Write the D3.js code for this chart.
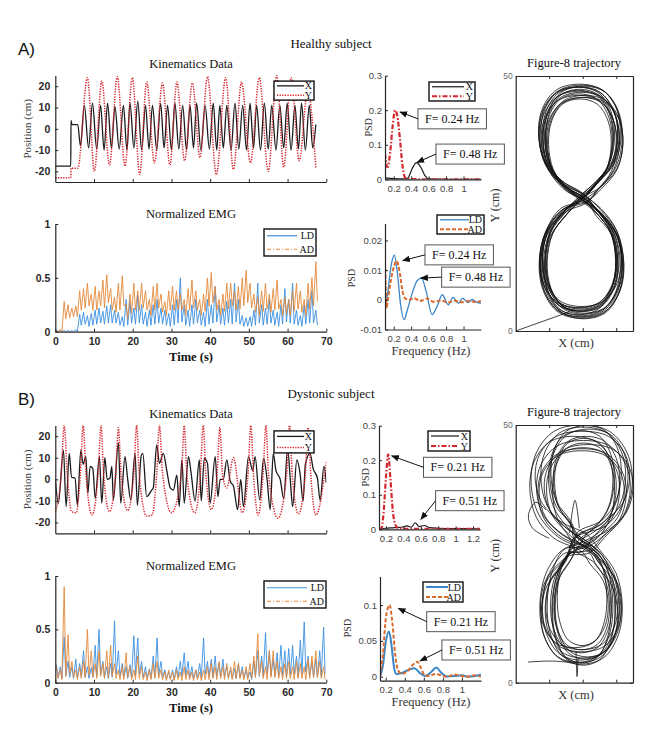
<!DOCTYPE html>
<html>
<head>
<meta charset="utf-8">
<script src="https://cdn.jsdelivr.net/npm/d3@7"></script>
<style>
  body { margin: 0; background: #fff; }
</style>
</head>
<body>
<script>
// ---------- values ----------
const timeTicks = [0, 10, 20, 30, 40, 50, 60, 70]
const kinTimeTicks = [10, 20, 30, 40, 50, 60, 70]
const posTicks = [-20, -10, 0, 10, 20]
const emgTicks = [0, 0.5, 1]
const freqTicks = [0.2, 0.4, 0.6, 0.8, 1]
const freqTicksLong = [0.2, 0.4, 0.6, 0.8, 1, 1.2]

// kinematics, turning points [time s, position cm]
const healthyX = [[0,-17.5],[4.0,-17.5],[4.05,4],[4.3,2],[5.8,2],[6.5,-8],[7.5,11],[8.6,-9],[9.6,12],[10.7,-9.5],[11.7,11],[12.6,-10],[13.5,12],[14.5,-9],[15.4,10.5],[16.5,-9.5],[17.6,11],[18.5,-10],[19.3,12],[20.3,-9],[21.3,13],[22.3,-10],[23.3,11],[24.2,-9.5],[25.1,11],[26.2,-10],[27.2,12],[28.1,-9],[29.0,11],[30.0,-10],[30.9,12],[31.9,-9.5],[32.9,11],[33.9,-10],[34.8,11],[35.7,-9],[36.5,12],[37.6,-10],[38.7,11],[39.8,-9.5],[40.8,12],[41.7,-10],[42.5,11],[43.4,-9],[44.3,11],[45.4,-10],[46.4,12],[47.4,-9.5],[48.4,11],[49.4,-10],[50.3,12],[51.2,-9],[52.0,11],[53.0,-10],[54.0,12],[55.0,-9.5],[55.9,11],[57.0,-10],[58.0,11],[59.0,-9],[59.9,12],[60.9,-10],[61.9,11],[62.8,-9.5],[63.6,12],[64.6,-10],[65.6,11],[66.5,-9],[67.3,2]]
const healthyY = [[0,-23],[4.0,-23],[4.05,-18.5],[5.8,-18.5],[8.3,24],[10.1,-20],[12.0,22.5],[14.0,-17],[16.0,24.5],[18.0,-17.5],[19.9,24],[21.8,-21.5],[23.6,22],[25.6,-16],[27.7,21.5],[29.6,-17],[31.4,22],[33.4,-15],[35.4,21.5],[37.4,-13.5],[39.3,24.5],[41.6,-21.5],[44.0,24],[46.0,-19],[48.1,22],[50.4,-16],[52.7,24],[55.0,-20],[57.2,25],[59.0,-18],[60.9,24],[63.0,-15],[65.2,18],[67.3,-18.5]]
const dystonicX = [[0,0],[0.8,-11],[2.1,13.5],[2.8,-12.6],[3.6,12],[4.2,1],[5.1,0.5],[5.7,-12],[6.6,13.5],[7.2,7],[7.9,10.5],[8.4,-6.5],[9.0,6],[9.7,5],[10.3,-8.8],[11.4,10.5],[12.0,-11],[12.8,10],[13.4,0],[14.1,0.5],[14.6,6],[15.0,-9.5],[16.3,17],[16.9,-11],[18.0,10.5],[18.7,0],[19.5,-9.5],[20.6,12],[21.2,-12],[22.2,11],[22.6,12],[23.6,-8],[24.9,-5],[25.3,-4],[26.2,16],[26.9,7.4],[27.9,12],[28.8,4],[29.7,-4],[30.5,-5],[31.4,2],[32.0,-12.6],[32.7,9],[33.3,-11],[34.4,10.5],[35.0,4],[36.1,-10],[37.2,9],[37.7,-10],[38.5,9.7],[39.3,7.4],[40.0,-11],[41.3,10.5],[42.0,-8],[42.6,0],[43.4,0],[44.3,9],[45.2,-1],[46.0,-3],[47.1,-14],[47.9,0],[48.6,-12.6],[49.9,10.5],[51.0,4],[51.6,10.5],[52.8,-9.5],[53.8,9.7],[54.7,0],[55.5,-14],[56.3,12],[57.0,4],[58.1,0],[59.0,-9],[60.0,14],[60.7,0],[61.3,-12.6],[62.4,9],[63.2,3],[64.0,-10],[64.6,7],[65.8,12],[66.6,5],[67.7,0.6],[68.4,-9.7],[69.4,6],[70,-1.7]]
const dystonicY = [[0,-15],[1.5,2],[2.3,25],[3.1,2],[4.2,-15],[5.4,-15.5],[6.5,3],[7.2,25],[7.9,3],[9.5,-16.5],[11.1,3],[11.8,25],[12.5,2],[14.0,-15],[15.6,3],[16.3,24],[17.0,2],[18.7,-14.5],[20.3,3],[21.0,25],[21.7,2],[23.6,-17],[25.0,-16.5],[26.2,3],[26.9,25],[27.7,3],[30.0,-15.5],[32.6,3],[33.3,25],[34.0,2],[36.0,-15.5],[37.5,3],[38.2,25],[38.9,2],[40.3,-14],[41.8,3],[42.5,24],[43.2,2],[44.3,-4],[46.0,10],[48.3,-15.5],[49.8,3],[50.5,25],[51.2,2],[52.4,-16.5],[53.7,3],[54.4,25],[55.1,2],[57.5,-18],[59.8,3],[60.5,25],[61.2,2],[62.8,-16],[64.6,3],[65.3,24],[66.0,2],[67.3,-16.5],[70,8]]

// normalized EMG, upper and lower edge of the trace for each second
const ldHealthyHi = [0.01,0.01,0.01,0.01,0.01,0.02,0.16,0.18,0.15,0.17,0.2,0.22,0.19,0.24,0.25,0.2,0.18,0.14,0.3,0.28,0.22,0.34,0.25,0.18,0.2,0.25,0.3,0.22,0.2,0.17,0.25,0.3,0.5,0.25,0.2,0.25,0.3,0.2,0.18,0.3,0.25,0.42,0.25,0.22,0.28,0.3,0.45,0.3,0.15,0.13,0.14,0.2,0.45,0.25,0.22,0.3,0.2,0.18,0.25,0.4,0.3,0.45,0.2,0.15,0.25,0.3,0.38,0.2]
const ldHealthyLo = [0,0,0,0,0,0,0.06,0.07,0.05,0.06,0.07,0.08,0.07,0.08,0.08,0.08,0.06,0.05,0.06,0.08,0.07,0.08,0.07,0.05,0.06,0.07,0.08,0.07,0.06,0.05,0.06,0.08,0.09,0.06,0.05,0.07,0.08,0.06,0.05,0.07,0.08,0.09,0.07,0.06,0.08,0.07,0.09,0.07,0.05,0.05,0.05,0.06,0.08,0.06,0.07,0.08,0.06,0.05,0.07,0.09,0.08,0.07,0.06,0.05,0.07,0.08,0.08,0.06]
const adHealthyHi = [0.01,0.02,0.28,0.25,0.22,0.24,0.38,0.4,0.45,0.35,0.42,0.38,0.48,0.53,0.4,0.32,0.45,0.52,0.25,0.35,0.45,0.38,0.45,0.38,0.3,0.42,0.45,0.35,0.28,0.38,0.42,0.38,0.35,0.3,0.4,0.48,0.38,0.3,0.35,0.5,0.55,0.42,0.3,0.35,0.45,0.45,0.38,0.42,0.5,0.57,0.45,0.35,0.32,0.38,0.45,0.35,0.4,0.48,0.3,0.32,0.3,0.38,0.45,0.38,0.3,0.45,0.5,0.65]
const adHealthyLo = [0,0,0.12,0.13,0.14,0.14,0.2,0.22,0.24,0.2,0.2,0.24,0.22,0.27,0.2,0.18,0.2,0.24,0.12,0.17,0.2,0.2,0.22,0.2,0.15,0.2,0.22,0.18,0.15,0.2,0.2,0.21,0.2,0.15,0.2,0.22,0.2,0.15,0.19,0.24,0.27,0.2,0.15,0.19,0.21,0.24,0.2,0.21,0.24,0.27,0.22,0.18,0.15,0.19,0.21,0.18,0.2,0.21,0.15,0.17,0.15,0.19,0.21,0.18,0.15,0.21,0.24,0.28]
const ldDystonicHi = [0.17,0.15,0.43,0.2,0.15,0.22,0.18,0.3,0.15,0.14,0.35,0.5,0.2,0.15,0.18,0.58,0.3,0.18,0.15,0.17,0.44,0.42,0.2,0.15,0.13,0.25,0.42,0.2,0.12,0.1,0.12,0.15,0.2,0.28,0.2,0.15,0.12,0.18,0.42,0.2,0.22,0.25,0.18,0.22,0.15,0.12,0.13,0.18,0.15,0.12,0.1,0.2,0.3,0.25,0.47,0.3,0.22,0.28,0.35,0.3,0.32,0.35,0.25,0.4,0.57,0.25,0.2,0.22,0.3,0.52]
const ldDystonicLo = [0.05,0.04,0.06,0.05,0.04,0.05,0.06,0.05,0.04,0.05,0.06,0.08,0.05,0.04,0.05,0.08,0.06,0.05,0.04,0.05,0.07,0.08,0.05,0.04,0.04,0.05,0.07,0.05,0.04,0.04,0.03,0.05,0.06,0.07,0.05,0.04,0.04,0.05,0.08,0.06,0.05,0.06,0.05,0.06,0.05,0.04,0.04,0.05,0.04,0.04,0.03,0.05,0.06,0.06,0.08,0.07,0.06,0.06,0.07,0.06,0.07,0.08,0.06,0.08,0.1,0.06,0.05,0.05,0.06,0.08]
const adDystonicHi = [0.15,0.12,0.9,0.45,0.2,0.12,0.15,0.2,0.5,0.3,0.18,0.3,0.18,0.3,0.35,0.18,0.12,0.15,0.28,0.15,0.12,0.25,0.15,0.1,0.12,0.18,0.2,0.12,0.1,0.12,0.1,0.12,0.1,0.15,0.12,0.1,0.12,0.1,0.12,0.15,0.18,0.15,0.2,0.15,0.18,0.15,0.2,0.18,0.12,0.15,0.18,0.25,0.46,0.2,0.15,0.3,0.3,0.2,0.15,0.18,0.2,0.15,0.2,0.18,0.15,0.22,0.25,0.3,0.2,0.15]
const adDystonicLo = [0.04,0.03,0.06,0.08,0.05,0.03,0.04,0.05,0.07,0.05,0.04,0.06,0.04,0.05,0.06,0.04,0.03,0.03,0.05,0.03,0.03,0.04,0.03,0.02,0.03,0.04,0.04,0.03,0.02,0.03,0.02,0.03,0.02,0.03,0.03,0.02,0.03,0.02,0.03,0.03,0.04,0.03,0.04,0.03,0.04,0.03,0.04,0.04,0.03,0.03,0.04,0.05,0.07,0.04,0.03,0.05,0.05,0.04,0.03,0.04,0.04,0.03,0.04,0.04,0.03,0.04,0.05,0.05,0.04,0.03]

// power spectra [Hz, PSD]
const psdHealthyX = [[0.1,0.004],[0.2,0.002],[0.3,0.001],[0.36,0.003],[0.41,0.03],[0.46,0.048],[0.51,0.035],[0.56,0.01],[0.6,0.001],[0.8,0],[1.2,0]]
const psdHealthyY = [[0.1,0.075],[0.115,0.045],[0.13,0.035],[0.16,0.08],[0.19,0.16],[0.215,0.2],[0.24,0.185],[0.27,0.12],[0.3,0.04],[0.33,0.005],[0.37,0.001],[0.6,0],[1.2,0]]
const psdHealthyLD = [[0.1,-0.0034],[0.13,0.002],[0.17,0.0115],[0.207,0.015],[0.24,0.0095],[0.28,-0.002],[0.318,-0.0067],[0.36,-0.003],[0.42,0.003],[0.47,0.0065],[0.52,0.0073],[0.57,0.003],[0.64,-0.005],[0.7,-0.002],[0.756,0.0017],[0.825,-0.0017],[0.88,0.0008],[0.94,-0.0012],[0.99,0.0005],[1.05,-0.0009],[1.1,0.0001],[1.15,-0.0008],[1.2,-0.0012]]
const psdHealthyAD = [[0.1,0.0125],[0.108,0.005],[0.116,-0.003],[0.13,-0.0005],[0.17,0.007],[0.205,0.0115],[0.234,0.0131],[0.27,0.009],[0.3,0.003],[0.33,0.0005],[0.38,0],[0.43,0.0006],[0.5,-0.0004],[0.58,0.0004],[0.66,-0.0007],[0.74,-0.0002],[0.82,-0.0009],[0.9,-0.0003],[0.98,-0.0008],[1.06,-0.0004],[1.13,-0.0007],[1.2,-0.0005]]
const psdDystonicX = [[0.12,0.002],[0.2,0.003],[0.3,0.005],[0.38,0.006],[0.44,0.01],[0.49,0.006],[0.535,0.019],[0.58,0.008],[0.64,0.011],[0.7,0.005],[0.8,0.003],[0.95,0.002],[1.1,0.002],[1.28,0.001]]
const psdDystonicY = [[0.12,0.002],[0.15,0.004],[0.17,0.04],[0.2,0.15],[0.225,0.217],[0.25,0.15],[0.28,0.05],[0.31,0.012],[0.34,0.003],[0.5,0.001],[1.28,0.001]]
const psdDystonicLD = [[0.14,0.001],[0.17,0.015],[0.2,0.048],[0.235,0.063],[0.26,0.045],[0.285,0.015],[0.31,0.004],[0.36,0.005],[0.43,0.009],[0.5,0.012],[0.56,0.005],[0.62,0.001],[0.68,0.007],[0.73,0.013],[0.78,0.006],[0.84,0.0005],[0.92,0.001],[1.0,0.002],[1.06,0.0003],[1.12,0.0008],[1.2,0.003]]
const psdDystonicAD = [[0.14,0.001],[0.17,0.03],[0.2,0.08],[0.24,0.1],[0.27,0.075],[0.3,0.03],[0.33,0.009],[0.37,0.004],[0.43,0.008],[0.48,0.016],[0.53,0.021],[0.57,0.012],[0.61,0.002],[0.66,0.001],[0.72,0.004],[0.78,0.002],[0.84,0],[0.92,0.003],[0.99,0.001],[1.06,0],[1.13,0.002],[1.2,0]]

// peak call-outs: box corner and arrow tip in [Hz, PSD]
const notesHealthyKin = [{label: 'F= 0.24 Hz', box: [0.478, 0.204], tip: [0.272, 0.195]}, {label: 'F= 0.48 Hz', box: [0.684, 0.102], tip: [0.467, 0.049]}]
const notesHealthyEmg = [{label: 'F= 0.24 Hz', box: [0.558, 0.0185], tip: [0.303, 0.0132]}, {label: 'F= 0.48 Hz', box: [0.749, 0.011], tip: [0.509, 0.0073]}]
const notesDystonicKin = [{label: 'F= 0.21 Hz', box: [0.631, 0.2085], tip: [0.266, 0.2126]}, {label: 'F= 0.51 Hz', box: [0.77, 0.1118], tip: [0.601, 0.029]}]
const notesDystonicEmg = [{label: 'F= 0.21 Hz', box: [0.63, 0.0908], tip: [0.332, 0.0956]}, {label: 'F= 0.51 Hz', box: [0.79, 0.0513], tip: [0.56, 0.022]}]

// figure-8 cycles (cm): crossing point, lobe side extents, top and bottom
const h8CrossX = [20.5,19.4,20.6,21.0,19.2,20.0,21.3,20.3,19.5,20.8,20.1,19.7,20.4,21.4,19.9,19.3]
const h8CrossY = [26.2,25.6,26.7,25.3,26.0,27.0,25.5,26.2,25.8,26.5,25.6,26.4,26.0,25.2,26.8,26.0]
const h8UpR = [30.5,28.8,31.5,30.2,29.0,31.2,32.0,29.5,28.5,30.8,31.8,30.0,29.2,31.0,30.4,32.0]
const h8UpL = [7.0,8.8,7.5,9.5,8.2,6.8,9.2,8.0,9.8,7.2,8.6,7.6,9.0,8.1,6.9,8.8]
const h8Top = [47.8,46.5,48.2,45.8,47.2,48.4,46.2,47.8,45.5,47.0,48.0,46.2,47.4,46.8,47.9,45.8]
const h8LowR = [31.8,30.0,32.2,30.5,31.5,29.8,32.0,30.8,31.6,30.0,32.3,30.4,31.2,30.2,31.8,29.9]
const h8LowL = [7.2,8.8,7.0,9.2,8.0,7.6,8.6,7.3,9.4,8.0,7.4,9.0,8.3,7.1,8.7,7.9]
const h8Bot = [2.8,4.3,2.5,3.8,4.8,3.2,2.4,4.1,3.5,4.5,2.7,3.9,3.0,4.6,3.3,3.9]
const h8Start = [[0, 0], [16.2, 3.8]]

const d8CrossX = [19.5,17.8,21.2,19.0,22.0,18.4,20.4,17.4,19.8,21.4,18.2,20.8,19.0,22.4,17.8]
const d8CrossY = [27.8,25.6,28.8,27.0,25.2,28.4,26.6,28.0,25.4,27.4,29.0,26.2,27.8,25.8,28.4]
const d8UpR = [32.8,29.5,34.0,31.0,34.8,29.0,32.4,33.5,30.0,35.0,31.5,34.2,29.4,33.0,31.0]
const d8UpL = [7.5,11.0,5.8,9.2,4.6,11.6,7.0,10.2,4.2,8.5,10.5,6.2,9.8,6.6,11.2]
const d8Top = [49.6,46.5,48.8,45.6,50.0,47.4,45.0,49.2,47.8,46.2,49.9,47.0,48.9,45.4,47.8]
const d8LowR = [30.8,28.0,31.8,28.6,30.4,27.2,31.4,29.6,27.6,31.0,29.0,31.6,28.4,30.4,29.8]
const d8LowL = [8.0,11.4,7.2,10.4,7.6,12.4,8.8,10.8,7.4,11.8,9.4,7.8,11.0,9.0,11.6]
const d8Bot = [4.4,6.4,3.6,5.8,3.9,7.2,4.8,3.4,6.8,5.0,4.0,6.0,3.8,6.4,4.6]
const d8Strays = [
  [[3.7,4.0],[10,4.2],[17.5,3.9]],
  [[18,6],[18.3,1.2],[18.6,5]],
  [[10,28],[5,30],[3.8,32.5],[6,35],[9,33.5]],
  [[16,29],[17.7,35.4],[19,30]]
]

// ---------- drawing ----------
const serif = '"Liberation Serif", "DejaVu Serif", serif'
const sans = '"Liberation Sans", Arial, sans-serif'
const black = '#1b1b1b', red = '#d5262c', blue = '#3b8ee0', orange = '#e3893b'
const psdBlue = '#3a86c8', psdOrange = '#dc6a2c'

const svg = d3.select('body').append('svg')
  .attr('width', 660).attr('height', 735).style('display', 'block')
const defs = svg.append('defs')
defs.append('marker').attr('id', 'arrow')
  .attr('viewBox', '0 0 10 10').attr('refX', 9).attr('refY', 5)
  .attr('markerWidth', 8).attr('markerHeight', 8)
  .attr('markerUnits', 'userSpaceOnUse').attr('orient', 'auto')
  .append('path').attr('d', 'M0,1 L10,5 L0,9 Z').attr('fill', '#111')

let clipCount = 0
function clip(x, y, pad) {
  const id = 'clip' + (clipCount++)
  const [x0, x1] = x.range(), [y0, y1] = y.range()
  defs.append('clipPath').attr('id', id).append('rect')
    .attr('x', x0).attr('y', y1 - pad).attr('width', x1 - x0).attr('height', y0 - y1 + pad)
  return `url(#${id})`
}

function label(x, y, s, o = {}) {
  const t = svg.append('text').attr('x', x).attr('y', y).text(s)
    .attr('font-family', o.font || serif).attr('font-size', o.size || 12)
    .attr('font-weight', o.weight || 'normal').attr('fill', o.color || '#111')
    .attr('text-anchor', o.anchor || 'middle')
  if (o.rotate) t.attr('transform', `rotate(-90,${x},${y})`)
  return t
}

function axes(x, y, o) {
  const gx = svg.append('g').attr('transform', `translate(0,${y.range()[0]})`)
    .call(d3.axisBottom(x).tickValues(o.xTicks).tickFormat(o.xLabels ? d => d : () => '')
      .tickSizeInner(-3).tickSizeOuter(0).tickPadding(o.xPad || 4))
  const gy = svg.append('g').attr('transform', `translate(${x.range()[0]},0)`)
    .call(d3.axisLeft(y).tickValues(o.yTicks).tickFormat(d => d)
      .tickSizeInner(-3).tickSizeOuter(0).tickPadding(o.yPad || 4))
  const gs = [gx, gy]
  if (o.box) {
    gs.push(svg.append('g').attr('transform', `translate(0,${y.range()[1]})`)
      .call(d3.axisTop(x).tickValues(o.xTicks).tickFormat(() => '').tickSizeInner(-3).tickSizeOuter(0)))
    gs.push(svg.append('g').attr('transform', `translate(${x.range()[1]},0)`)
      .call(d3.axisRight(y).tickValues(o.yTicks).tickFormat(() => '').tickSizeInner(-3).tickSizeOuter(0)))
  }
  for (const g of gs) {
    g.select('.domain').attr('stroke', '#262626').attr('stroke-width', 1.2)
    g.selectAll('.tick line').attr('stroke', '#262626')
    g.selectAll('text').attr('font-family', o.font).attr('font-size', o.size)
      .attr('font-weight', o.weight).attr('fill', o.color)
  }
}

function legend(x0, y0, w, h, items) {
  const g = svg.append('g')
  g.append('rect').attr('x', x0).attr('y', y0).attr('width', w).attr('height', h)
    .attr('fill', '#fff').attr('stroke', '#111').attr('stroke-width', 1.4)
  items.forEach((it, i) => {
    const yy = y0 + h * (i + 0.5) / items.length
    g.append('line').attr('x1', x0 + 3).attr('x2', x0 + w - it.gap).attr('y1', yy).attr('y2', yy)
      .attr('stroke', it.color).attr('stroke-width', it.width).attr('stroke-dasharray', it.dash || null)
    g.append('text').attr('x', x0 + w - 2).attr('y', yy).attr('dy', '0.35em')
      .attr('text-anchor', 'end').attr('font-family', serif).attr('font-size', 10)
      .attr('fill', '#111').text(it.label)
  })
}

function notes(x, y, list) {
  list.forEach(n => {
    const bx = x(n.box[0]), by = y(n.box[1]), h = 20
    const r = svg.append('rect').attr('y', by).attr('height', h).attr('x', bx)
      .attr('fill', '#fff').attr('stroke', '#555').attr('stroke-width', 1)
    const t = label(bx + 7, by + 14, n.label, {anchor: 'start', size: 12})
    r.attr('width', t.node().getComputedTextLength() + 14)
    svg.append('line').attr('x1', bx).attr('y1', by + h / 2)
      .attr('x2', x(n.tip[0])).attr('y2', y(n.tip[1]))
      .attr('stroke', '#111').attr('stroke-width', 1).attr('marker-end', 'url(#arrow)')
  })
}

const smooth = (x, y) => d3.line().x(d => x(d[0])).y(d => y(d[1])).curve(d3.curveMonotoneX)
const straight = (x, y) => d3.line().x(d => x(d[0])).y(d => y(d[1]))
const rounded = (x, y) => d3.line().x(d => x(d[0])).y(d => y(d[1])).curve(d3.curveCatmullRom)

function trace(x, y, data, o, gen) {
  svg.append('path').datum(data).attr('d', (gen || smooth)(x, y))
    .attr('fill', 'none').attr('stroke', o.color).attr('stroke-width', o.width)
    .attr('stroke-dasharray', o.dash || null).attr('clip-path', o.clip || null)
    .attr('stroke-linejoin', 'round')
}

// EMG: one up/down stroke per second between the read edges
function envelope(hi, lo) {
  const pts = []
  hi.forEach((h, i) => { pts.push([i + 0.3, h], [i + 0.7, lo[i]]) })
  return pts
}

// lobe outline, in units of the lobe's half width and height above the crossing
const lobe = [[0.45, 0.12], [0.85, 0.3], [1, 0.55], [0.9, 0.78], [0.55, 0.95], [0, 1],
  [-0.55, 0.95], [-0.9, 0.78], [-1, 0.55], [-0.85, 0.3], [-0.45, 0.12]]
function eightPath(cx, cy, upR, upL, top, lowR, lowL, bot) {
  const pts = []
  cx.forEach((_, i) => {
    const um = (upR[i] + upL[i]) / 2, uh = (upR[i] - upL[i]) / 2
    const lm = (lowR[i] + lowL[i]) / 2, lh = (lowR[i] - lowL[i]) / 2
    pts.push([cx[i], cy[i]])
    lobe.forEach(([u, v]) => pts.push([um + u * uh, cy[i] + v * (top[i] - cy[i])]))
    pts.push([cx[i], cy[i]])
    lobe.forEach(([u, v]) => pts.push([lm + u * lh, cy[i] - v * (cy[i] - bot[i])]))
  })
  return pts
}

const tickStyleBold = {font: sans, size: 10.5, weight: 'bold', color: '#2a2a2a'}
const tickStylePsd = {font: sans, size: 9.5, weight: 'normal', color: '#444'}

function section(s) {
  label(18, s.top + 30, s.tag, {font: sans, size: 17, anchor: 'start'})
  label(331, s.top + 23, s.name, {size: 13})

  // kinematics
  const tx = d3.scaleLinear().domain([0, 70]).range([55.3, 326.3])
  const ky = d3.scaleLinear().domain([-25, 25]).range([s.kinBottom, s.kinTop])
  label(191, s.kinTop - 7.5, 'Kinematics Data', {size: 12.5})
  label(31, (s.kinTop + s.kinBottom) / 2, 'Position (cm)', {size: 11, color: '#444', rotate: true})
  const kc = clip(tx, ky, 3)
  trace(tx, ky, s.kinX, {color: black, width: 1.3, clip: kc})
  trace(tx, ky, s.kinY, {color: red, width: 1.5, dash: '1.3,1.3', clip: kc})
  axes(tx, ky, {xTicks: kinTimeTicks, yTicks: posTicks, yPad: 5, ...tickStyleBold})
  legend(274, s.kinTop + 5.5, 40, s.kinLegH, [
    {label: 'X', color: black, width: 1.3, gap: 10},
    {label: 'Y', color: red, width: 1.5, dash: '1.3,1.3', gap: 10}])

  // EMG
  const ey = d3.scaleLinear().domain([0, 1]).range([s.emgBottom, s.emgTop])
  label(191, s.emgTop - 6, 'Normalized EMG', {size: 12.5})
  const ec = clip(tx, ey, 2)
  trace(tx, ey, envelope(s.ldHi, s.ldLo), {color: blue, width: 0.9, clip: ec}, straight)
  trace(tx, ey, envelope(s.adHi, s.adLo), {color: orange, width: 0.9, clip: ec}, straight)
  axes(tx, ey, {xTicks: timeTicks, xLabels: true, xPad: 6, yTicks: emgTicks, yPad: 5, ...tickStyleBold})
  legend(264, s.emgTop + 5, s.emgLegW, 27, [
    {label: 'LD', color: blue, width: 1.2, gap: 19},
    {label: 'AD', color: orange, width: 1.2, dash: '4,2,1,2', gap: 19}])
  label(191, s.emgBottom + 29.5, 'Time (s)', {size: 12.5, weight: 'bold'})

  // PSD of kinematics
  const fx1 = d3.scaleLinear().domain(s.f1Dom).range(s.f1Range)
  const py1 = d3.scaleLinear().domain([0, 0.3]).range([s.p1Bottom, s.p1Bottom - 103.6])
  const c1 = clip(fx1, py1, 2)
  trace(fx1, py1, s.psdX, {color: black, width: 1.2, clip: c1})
  trace(fx1, py1, s.psdY, {color: red, width: 2.2, dash: '5,2,1.5,2', clip: c1})
  axes(fx1, py1, {xTicks: s.f1Ticks, xLabels: true, xPad: 6, yTicks: [0, 0.1, 0.2, 0.3], yPad: 3, ...tickStylePsd})
  label(s.p1LabelX, s.p1Bottom - 52, 'PSD', {size: 10, color: '#333', rotate: true})
  legend(s.p1Leg[0], s.p1Leg[1], s.p1Leg[2], s.p1Leg[3], [
    {label: 'X', color: black, width: 1.2, gap: 11},
    {label: 'Y', color: red, width: 2.2, dash: '5,2,1.5,2', gap: 11}])
  notes(fx1, py1, s.notesKin)

  // PSD of EMG
  const fx2 = d3.scaleLinear().domain(s.f2Dom).range(s.f2Range)
  const py2 = d3.scaleLinear().domain(s.p2Dom).range(s.p2Range)
  const c2 = clip(fx2, py2, 2)
  trace(fx2, py2, s.psdLD, {color: psdBlue, width: s.ldWidth, clip: c2})
  trace(fx2, py2, s.psdAD, {color: psdOrange, width: 2, dash: '4,2', clip: c2})
  axes(fx2, py2, {xTicks: freqTicks, xLabels: true, xPad: 6, yTicks: s.p2Ticks, yPad: 3, ...tickStylePsd})
  label(s.p2LabelX, s.p2LabelY, 'PSD', {size: 10, color: '#333', rotate: true})
  label(431, s.p2Range[0] + 25, 'Frequency (Hz)', {size: 12.5, color: '#333'})
  legend(s.p2Leg[0], s.p2Leg[1], s.p2Leg[2], s.p2Leg[3], [
    {label: 'LD', color: psdBlue, width: s.ldWidth, gap: 15},
    {label: 'AD', color: psdOrange, width: 2, dash: '4,2', gap: 15}])
  notes(fx2, py2, s.notesEmg)

  // figure-8 trajectory
  const gx = d3.scaleLinear().domain([0, 35]).range([515.7, 633])
  const gy = d3.scaleLinear().domain([0, 50]).range([s.t8Bottom, s.t8Top])
  label(574, s.t8Top - 9, 'Figure-8 trajectory', {size: 12.5})
  const gc = clip(gx, gy, 0)
  trace(gx, gy, s.eight, {color: '#111', width: 0.8, clip: gc}, rounded)
  s.strays.forEach(p => trace(gx, gy, p, {color: '#111', width: 0.8, clip: gc}, rounded))
  axes(gx, gy, {xTicks: [10, 20, 30], yTicks: [0, 50], yPad: 3, box: true, font: sans, size: 8.5, weight: 'normal', color: '#666'})
  label(576, s.t8Bottom + 16, 'X (cm)', {size: 12.5, color: '#333'})
  label(499, (s.t8Top + s.t8Bottom) / 2 + 2, 'Y (cm)', {size: 12, color: '#333', rotate: true})
}

section({
  tag: 'A)', name: 'Healthy subject', top: 25,
  kinTop: 75.6, kinBottom: 182, kinLegH: 19, kinX: healthyX, kinY: healthyY,
  emgTop: 224, emgBottom: 331.7, emgLegW: 52,
  ldHi: ldHealthyHi, ldLo: ldHealthyLo, adHi: adHealthyHi, adLo: adHealthyLo,
  f1Dom: [0.1, 1.2], f1Range: [385, 481], f1Ticks: freqTicks, p1Bottom: 179.3, p1LabelX: 372,
  psdX: psdHealthyX, psdY: psdHealthyY, p1Leg: [429, 82, 46, 19], notesKin: notesHealthyKin,
  f2Dom: [0.1, 1.2], f2Range: [385, 481], p2Dom: [-0.01, 0.0257], p2Range: [329.5, 223.5],
  p2Ticks: [-0.01, 0, 0.01, 0.02], p2LabelX: 355, p2LabelY: 278, ldWidth: 1.3,
  psdLD: psdHealthyLD, psdAD: psdHealthyAD, p2Leg: [437, 215, 47, 19], notesEmg: notesHealthyEmg,
  t8Top: 76, t8Bottom: 331,
  eight: eightPath(h8CrossX, h8CrossY, h8UpR, h8UpL, h8Top, h8LowR, h8LowL, h8Bot),
  strays: [h8Start]
})

section({
  tag: 'B)', name: 'Dystonic subject', top: 375,
  kinTop: 425.4, kinBottom: 533.3, kinLegH: 22, kinX: dystonicX, kinY: dystonicY,
  emgTop: 576, emgBottom: 682.7, emgLegW: 62,
  ldHi: ldDystonicHi, ldLo: ldDystonicLo, adHi: adDystonicHi, adLo: adDystonicLo,
  f1Dom: [0.12, 1.28], f1Range: [379, 480], f1Ticks: freqTicksLong, p1Bottom: 529.3, p1LabelX: 369,
  psdX: psdDystonicX, psdY: psdDystonicY, p1Leg: [428, 431, 42, 20], notesKin: notesDystonicKin,
  f2Dom: [0.14, 1.2], f2Range: [380, 481], p2Dom: [-0.0055, 0.14], p2Range: [680.7, 576.4],
  p2Ticks: [0, 0.05, 0.1], p2LabelX: 351, p2LabelY: 628, ldWidth: 2,
  psdLD: psdDystonicLD, psdAD: psdDystonicAD, p2Leg: [423, 582, 40, 20], notesEmg: notesDystonicEmg,
  t8Top: 425, t8Bottom: 682.7,
  eight: eightPath(d8CrossX, d8CrossY, d8UpR, d8UpL, d8Top, d8LowR, d8LowL, d8Bot),
  strays: d8Strays
})
</script>
</body>
</html>
